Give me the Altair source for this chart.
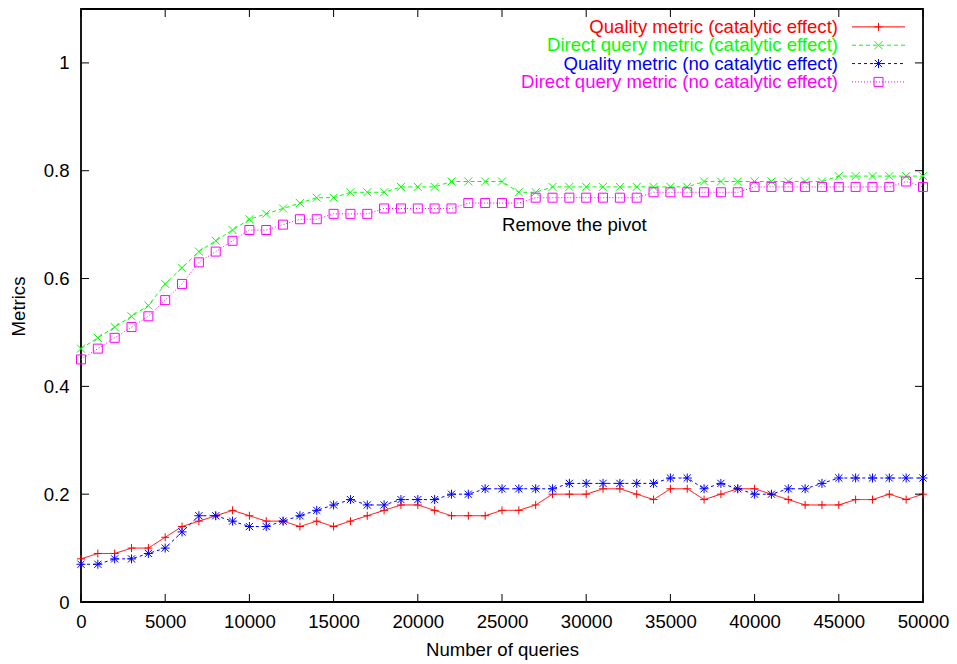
import altair as alt
import pandas as pd

# ---------------- data ----------------
queries = list(range(0, 50001, 1000))

quality_cat = [0.08, 0.09, 0.09, 0.10, 0.10, 0.12, 0.14, 0.15, 0.16, 0.17,
               0.16, 0.15, 0.15, 0.14, 0.15, 0.14, 0.15, 0.16, 0.17, 0.18,
               0.18, 0.17, 0.16, 0.16, 0.16, 0.17, 0.17, 0.18, 0.20, 0.20,
               0.20, 0.21, 0.21, 0.20, 0.19, 0.21, 0.21, 0.19, 0.20, 0.21,
               0.21, 0.20, 0.19, 0.18, 0.18, 0.18, 0.19, 0.19, 0.20, 0.19,
               0.20]
direct_cat = [0.47, 0.49, 0.51, 0.53, 0.55, 0.59, 0.62, 0.65, 0.67, 0.69,
              0.71, 0.72, 0.73, 0.74, 0.75, 0.75, 0.76, 0.76, 0.76, 0.77,
              0.77, 0.77, 0.78, 0.78, 0.78, 0.78, 0.76, 0.76, 0.77, 0.77,
              0.77, 0.77, 0.77, 0.77, 0.77, 0.77, 0.77, 0.78, 0.78, 0.78,
              0.78, 0.78, 0.78, 0.78, 0.78, 0.79, 0.79, 0.79, 0.79, 0.79,
              0.79]
quality_nocat = [0.07, 0.07, 0.08, 0.08, 0.09, 0.10, 0.13, 0.16, 0.16, 0.15,
                 0.14, 0.14, 0.15, 0.16, 0.17, 0.18, 0.19, 0.18, 0.18, 0.19,
                 0.19, 0.19, 0.20, 0.20, 0.21, 0.21, 0.21, 0.21, 0.21, 0.22,
                 0.22, 0.22, 0.22, 0.22, 0.22, 0.23, 0.23, 0.21, 0.22, 0.21,
                 0.20, 0.20, 0.21, 0.21, 0.22, 0.23, 0.23, 0.23, 0.23, 0.23,
                 0.23]
direct_nocat = [0.45, 0.47, 0.49, 0.51, 0.53, 0.56, 0.59, 0.63, 0.65, 0.67,
                0.69, 0.69, 0.70, 0.71, 0.71, 0.72, 0.72, 0.72, 0.73, 0.73,
                0.73, 0.73, 0.73, 0.74, 0.74, 0.74, 0.74, 0.75, 0.75, 0.75,
                0.75, 0.75, 0.75, 0.75, 0.76, 0.76, 0.76, 0.76, 0.76, 0.76,
                0.77, 0.77, 0.77, 0.77, 0.77, 0.77, 0.77, 0.77, 0.77, 0.78,
                0.77]

series_names = ["Quality metric (catalytic effect)",
                "Direct query metric (catalytic effect)",
                "Quality metric (no catalytic effect)",
                "Direct query metric (no catalytic effect)"]

x_ticks = [0, 5000, 10000, 15000, 20000, 25000, 30000, 35000, 40000, 45000, 50000]
y_ticks = [0, 0.2, 0.4, 0.6, 0.8, 1]

annot_x = [25000]
annot_y = [0.70]
annot_text = ["Remove the pivot"]

# ---------------- styling ----------------
FONT = "Liberation Sans"
FS = 18.6
W, H = 842, 593
PAD_L = 73

PLUS = "M-1,0L1,0M0,-1L0,1"
XMARK = "M-1,-1L1,1M-1,1L1,-1"
STAR = "M-1,0L1,0M0,-1L0,1M-0.8,-0.8L0.8,0.8M-0.8,0.8L0.8,-0.8"
SQUARE = "M-1,-1L1,-1L1,1L-1,1Z"

styles = [
    ("#ff0000", [1, 0], PLUS, 64),
    ("#00ff00", [4, 3], XMARK, 64),
    ("#0000ff", [3, 3], STAR, 81),
    ("#ff00ff", [1, 2], SQUARE, 81),
]
values = [quality_cat, direct_cat, quality_nocat, direct_nocat]

xscale = alt.Scale(domain=[0, 50000], nice=False, zero=False)
yscale = alt.Scale(domain=[0, 1.1], nice=False, zero=False)

X = alt.X("q:Q", scale=xscale,
          axis=alt.Axis(values=x_ticks, format="d", title="Number of queries",
                        labelPadding=10, labelFlush=False, labelOverlap=False,
                        titleX=W / 2, titleY=53, titleBaseline="alphabetic",
                        titleAlign="center"))
Y = alt.Y("v:Q", scale=yscale,
          axis=alt.Axis(values=y_ticks, format="~g", title="Metrics",
                        labelPadding=12, labelFlush=False, labelOverlap=False,
                        titleX=-57, titleY=297, titleAngle=-90,
                        titleBaseline="alphabetic", titleAlign="center"))

# legend geometry (pixels, relative to the plot's left/top edge)
page_left = 8 + PAD_L
LEG_TEXT_X = 838 - page_left
LEG_LINE_X1 = 852 - page_left
LEG_LINE_X2 = 905 - page_left
LEG_MARK_X = 878.5 - page_left

layers = []
legend_y0, legend_step = 17.9, 18.33
for i, (name, vals, (col, dash, shape, size)) in enumerate(zip(series_names, values, styles)):
    df = pd.DataFrame({"q": queries, "v": vals})
    layers.append(alt.Chart(df).mark_line(color=col, strokeWidth=1, strokeDash=dash)
                  .encode(x=X, y=Y))
    layers.append(alt.Chart(df).mark_point(shape=shape, filled=False, color=col, size=size,
                                           strokeWidth=1, opacity=1)
                  .encode(x=X, y=Y))
    ly = legend_y0 + i * legend_step
    ldf = pd.DataFrame({"label": [name]})
    layers.append(alt.Chart(ldf).mark_text(align="right", baseline="middle", font=FONT,
                                           fontSize=FS, color=col)
                  .encode(x=alt.value(LEG_TEXT_X), y=alt.value(ly), text="label:N"))
    layers.append(alt.Chart(ldf).mark_rule(color=col, strokeWidth=1, strokeDash=dash)
                  .encode(x=alt.value(LEG_LINE_X1), x2=alt.value(LEG_LINE_X2), y=alt.value(ly)))
    layers.append(alt.Chart(ldf).mark_point(shape=shape, filled=False, color=col, size=size,
                                            strokeWidth=1, opacity=1)
                  .encode(x=alt.value(LEG_MARK_X), y=alt.value(ly)))

# inward ticks (gnuplot style, mirrored)
xt = pd.DataFrame({"q": x_ticks})
yt = pd.DataFrame({"v": y_ticks})
TL = 8
layers.append(alt.Chart(xt).mark_rule(color="black", strokeWidth=1)
              .encode(x=X, y=alt.value(H), y2=alt.value(H - TL)))
layers.append(alt.Chart(xt).mark_rule(color="black", strokeWidth=1)
              .encode(x=X, y=alt.value(0), y2=alt.value(TL)))
layers.append(alt.Chart(yt).mark_rule(color="black", strokeWidth=1)
              .encode(y=Y, x=alt.value(0), x2=alt.value(TL)))
layers.append(alt.Chart(yt).mark_rule(color="black", strokeWidth=1)
              .encode(y=Y, x=alt.value(W), x2=alt.value(W - TL)))

adf = pd.DataFrame({"q": annot_x, "v": annot_y, "t": annot_text})
layers.append(alt.Chart(adf).mark_text(align="left", baseline="middle", font=FONT,
                                       fontSize=FS, color="black")
              .encode(x=X, y=Y, text="t:N"))

chart = alt.layer(*layers).properties(
    width=W, height=H,
    autosize=alt.AutoSizeParams(type="none"),
    padding={"left": PAD_L, "top": 1, "right": 26, "bottom": 60},
    background="white",
).configure_view(
    stroke="black", strokeWidth=1.8
).configure_axis(
    grid=False, domain=False, ticks=False, tickSize=0,
    labelFont=FONT, labelFontSize=FS, labelColor="black",
    titleFont=FONT, titleFontSize=FS, titleFontWeight="normal", titleColor="black",
)

chart.save("out.html", embed_options={"renderer": "svg", "actions": False})
